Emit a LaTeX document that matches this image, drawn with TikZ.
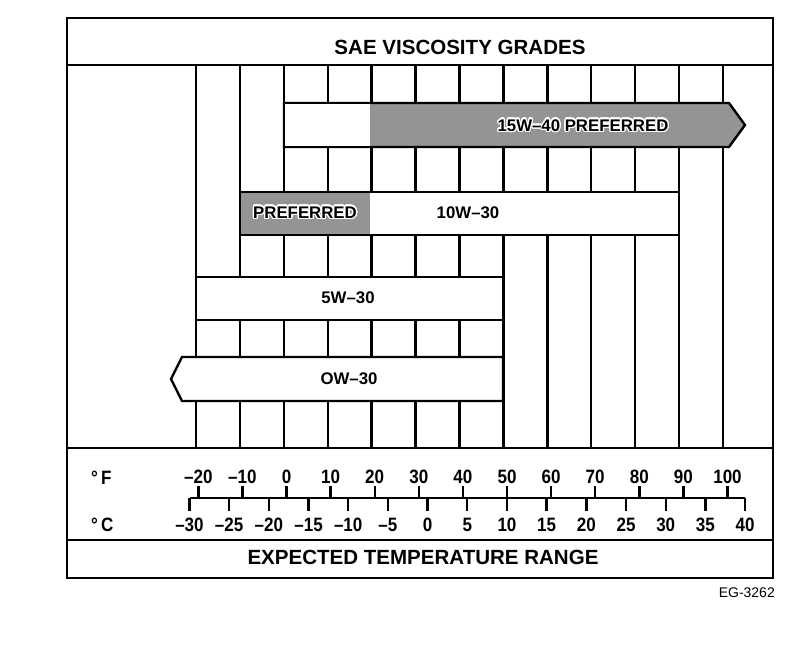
\documentclass[tikz,border=0pt]{standalone}
\usepackage{fontspec}
\setmainfont{Liberation Sans}
\newfontfamily\narrowsf{Liberation Sans}[FakeStretch=0.88]
\usepackage{contour}
\contourlength{1pt}
\newcommand\templabel[1]{\ifnum#1<0 –\number-#1\else#1\fi}
\tikzset{
heading/.style={font=\bfseries\fontsize{15.4}{18}\selectfont},
grade/.style={font=\bfseries\fontsize{12.6}{15}\selectfont},
scalenum/.style={font=\narrowsf\bfseries\fontsize{14.5}{17}\selectfont,inner sep=0pt},
halftone/.style={fill=black!42},
}
\begin{document}
\begin{tikzpicture}[x=0.75pt,y=-0.75pt,line width=1.8pt]
\useasboundingbox (0,0) rectangle (800,666);
\draw (67,18) rectangle (773,578);
\foreach \y in {65,448,540}
\draw (67,\y)--(773,\y);
\foreach \k in {0,...,12}
\draw ({196+43.92*\k},65)--({196+43.92*\k},448);
\draw[halftone] (284,103)--(729,103)--(745,125)--(729,147)--(284,147)--cycle;
\fill[white] (285.2,104.2) rectangle (370,145.8);
\draw[fill=white] (240,192) rectangle (679,235);
\fill[halftone] (241.2,193.2) rectangle (370,233.8);
\draw[fill=white] (196,277) rectangle (503,320);
\draw[fill=white] (182,357)--(503,357)--(503,401)--(182,401)--(171,379)--cycle;
\node[heading] (title) at (460,47) {SAE VISCOSITY GRADES};
\node[grade] (g15) at (583,126) {\contour{white}{15W–40 PREFERRED}};
\node[grade] (pref) at (305,213) {\contour{white}{PREFERRED}};
\node[grade] (g10) at (468,213) {10W–30};
\node[grade] (g5) at (348,298) {5W–30};
\node[grade] (g0) at (349,379) {OW–30};
\node[heading] (range) at (423,557) {EXPECTED TEMPERATURE RANGE};
\node[scalenum,anchor=west] (degF) at (90,478) {°\,F};
\node[scalenum,anchor=west] (degC) at (90,525) {°\,C};
\node[font=\fontsize{10.5}{12}\selectfont,anchor=east,inner sep=0pt] (eg) at (776,593) {EG-3262};
\draw (189.5,498)--(745,498);
\foreach \f in {-20,-10,...,100}
\draw ({286.5+4.41*\f},498)--++(0,-12) node[scalenum,above=1pt]{\templabel{\f}};
\foreach \c in {-30,-25,...,40}
\draw ({427.6+7.938*\c},498)--++(0,13) node[scalenum,below=4.5pt]{\templabel{\c}};
\end{tikzpicture}
\end{document}
